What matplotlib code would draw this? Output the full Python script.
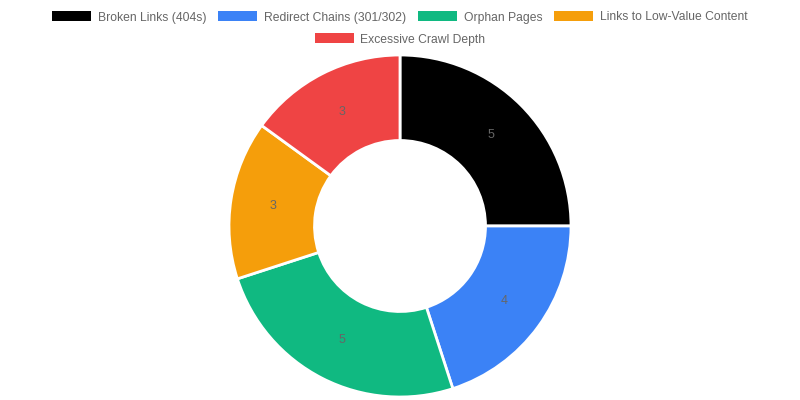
import matplotlib
matplotlib.use("Agg")
import matplotlib.pyplot as plt
import numpy as np
from matplotlib.patches import Rectangle

categories = ["Broken Links (404s)", "Redirect Chains (301/302)", "Orphan Pages",
              "Links to Low-Value Content", "Excessive Crawl Depth"]
values = [5, 4, 5, 3, 3]
colors = ["#000000", "#3b82f6", "#10b981", "#f59e0b", "#ef4444"]

plt.rcParams['font.family'] = ['Liberation Sans', 'DejaVu Sans']
W, H = 800, 400
fig = plt.figure(figsize=(8, 4), dpi=100)

R = 171
cx, cy = 400, 226
ax = fig.add_axes([(cx - R) / W, (H - cy - R) / H, 2 * R / W, 2 * R / H])
wedges, _ = ax.pie(values, colors=colors, startangle=90, counterclock=False,
                   radius=1.0, wedgeprops=dict(width=0.5, edgecolor="white", linewidth=2))
ax.set_xlim(-1, 1)
ax.set_ylim(-1, 1)
ax.set_aspect("equal")
ax.axis("off")

total = sum(values)
ang = 90.0
for v in values:
    mid = ang - v / total * 360 / 2
    ang -= v / total * 360
    r = 0.75
    ax.text(r * np.cos(np.radians(mid)), r * np.sin(np.radians(mid)), str(v),
            ha="center", va="center", color="#666666", fontsize=9)

# legend
fs = 8.7
box_w, box_h = 39, 10
gap_bt = 7
gap_item = 11.5
rows = [[0, 1, 2, 3], [4]]
row_y = [16, 38]
renderer = fig.canvas.get_renderer()

def text_width(s):
    t = fig.text(0, 0, s, fontsize=fs)
    w = t.get_window_extent(renderer=renderer).width
    t.remove()
    return w

for row, yc in zip(rows, row_y):
    widths = [box_w + gap_bt + text_width(categories[i]) for i in row]
    total_w = sum(widths) + gap_item * (len(row) - 1)
    x = (W - total_w) / 2
    for i, w in zip(row, widths):
        fig.patches.append(Rectangle((x / W, (H - yc - box_h / 2) / H), box_w / W, box_h / H,
                                     transform=fig.transFigure, facecolor=colors[i],
                                     edgecolor="none"))
        fig.text((x + box_w + gap_bt) / W, (H - yc) / H, categories[i], fontsize=fs,
                 color="#666666", ha="left", va="center_baseline")
        x += w + gap_item

fig.savefig("out.png", dpi=100)
